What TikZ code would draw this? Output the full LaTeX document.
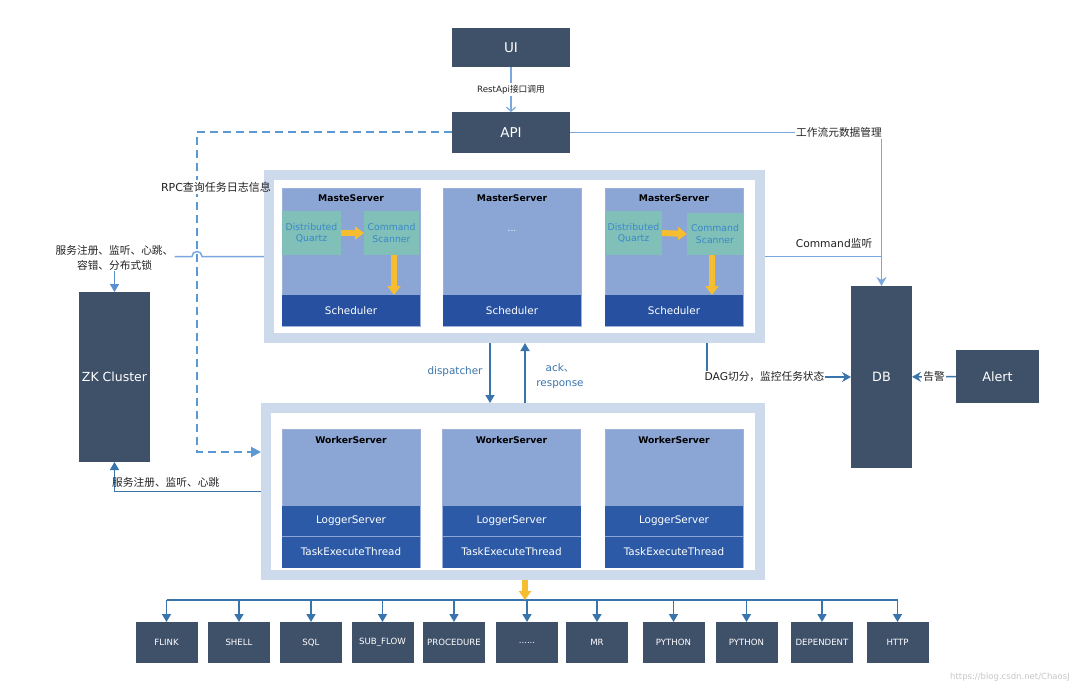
\documentclass[tikz,border=0pt]{standalone}
\usepackage{fontspec}
\setmainfont{DejaVu Sans}
\newfontfamily\cjk{Noto Sans CJK SC}
\usetikzlibrary{arrows.meta}
\definecolor{slate}{HTML}{3F5069}
\definecolor{frameblue}{HTML}{CDDAEC}
\definecolor{bodyblue}{HTML}{8BA5D5}
\definecolor{bandblue}{HTML}{2751A0}
\definecolor{wbandblue}{HTML}{2C5AA6}
\definecolor{qteal}{HTML}{80C0B9}
\definecolor{qtext}{HTML}{3B87C9}
\definecolor{qyellow}{HTML}{F5BD2F}
\definecolor{lineblue}{HTML}{7AA7DE}
\definecolor{midblue}{HTML}{5A8FD0}
\definecolor{steel}{HTML}{3A74AC}
\definecolor{dashblue}{HTML}{5A99D4}
\definecolor{txt}{HTML}{222222}
\newcommand\myfs[2]{\fontsize{#1}{#2}\selectfont}
\newcommand\sixdots{......}
\begin{document}
\begin{tikzpicture}[x=1pt,y=-1pt,
  darkbox/.style={fill=slate, text=white, inner sep=0pt, outer sep=0pt, font=\myfs{13.5}{15}},
  frame/.style={draw=frameblue, line width=10pt, fill=white, inner sep=0pt, outer sep=5pt},
  srv/.style={fill=bodyblue, draw=bodyblue!85!white, line width=0.6pt, minimum width=138pt, minimum height=138pt, inner sep=0pt, outer sep=0pt},
  band/.style={fill=bandblue, text=white, minimum width=138pt, minimum height=31pt, inner sep=0pt, outer sep=0pt, font=\myfs{10.4}{12}},
  wband/.style={band, fill=wbandblue},
  sub/.style={fill=qteal, text=qtext, minimum height=44pt, inner sep=0pt, outer sep=0pt, align=center, font=\myfs{9.3}{11.3}},
  title/.style={text=black, inner sep=0pt, font=\bfseries\myfs{9.2}{11}},
  yarrow/.style={qyellow, line width=6pt, -{Triangle[length=9pt,width=13pt]}},
  lbl/.style={fill=white, text=txt, inner sep=1pt, align=center, font=\myfs{10.7}{15}},
  plain/.style={text=txt, inner sep=0pt, align=center, font=\myfs{10.7}{15}},
  steeltext/.style={text=steel, inner sep=0pt, align=center, font=\myfs{10.4}{15}},
  task/.style={darkbox, minimum width=62pt, minimum height=41pt, font=\myfs{8.6}{10}},
  lblue/.style={lineblue, line width=1.5pt},
  steelline/.style={steel, line width=1.5pt},
  chev/.style={-{Stealth[length=9pt,width=10pt,inset=3pt]}},
  tri/.style={-{Triangle[length=8pt,width=9pt]}},
  dashline/.style={dashblue, line width=2pt, dash pattern=on 8pt off 5pt, -{Triangle[length=10pt,width=10pt]}}
]
\useasboundingbox (0,0) rectangle (1080,690);
\fill[white] (0,0) rectangle (1080,690);

% top
\node[darkbox, minimum width=118pt, minimum height=39pt] (ui) at (511,47.5) {UI};
\node[darkbox, minimum width=118pt, minimum height=41pt] (api) at (511,132.5) {API};

% frames
\node[frame, minimum width=491pt, minimum height=163pt] (mframe) at (514.5,256.5) {};
\node[frame, minimum width=494pt, minimum height=167pt] (wframe) at (513,491.5) {};

% master servers
\node[srv] (m1) at (351,257) {};
\node[band, anchor=south] (s1) at (m1.south) {Scheduler};
\node[title] (t1) at (351,198) {MasteServer};
\node[sub, minimum width=59pt] (dq1) at (311.5,233) {Distributed\\Quartz};
\node[sub, minimum width=55pt] (cs1) at (391.5,233) {Command\\Scanner};
\draw[yarrow] (dq1.east) -- (cs1.west);
\draw[yarrow] (cs1.south -| 394,0) -- (s1.north -| 394,0);

\node[srv] (m2) at (512,257) {};
\node[band, anchor=south] (s2) at (m2.south) {Scheduler};
\node[title] (t2) at (512,198) {MasterServer};
\node[text=white, inner sep=0pt, font=\myfs{9}{11}] (dots) at (512,231) {...};

\node[srv] (m3) at (674,257) {};
\node[band, anchor=south] (s3) at (m3.south) {Scheduler};
\node[title] (t3) at (674,198) {MasterServer};
\node[sub, minimum width=57pt] (dq3) at (633.5,233) {Distributed\\Quartz};
\node[sub, minimum width=56pt, minimum height=42pt] (cs3) at (715,234) {Command\\Scanner};
\draw[yarrow] (dq3.east) -- (cs3.west);
\draw[yarrow] (cs3.south -| 712,0) -- (s3.north -| 712,0);

% worker servers
\foreach \w/\x in {w1/351, w2/511.5, w3/674} {
  \node[srv] (\w) at (\x,498.5) {};
  \node[wband, anchor=south] (\w tk) at (\w.south) {TaskExecuteThread};
  \node[wband, anchor=south] (\w lg) at (\w tk.north) {LoggerServer};
  \draw[bodyblue, line width=0.8pt] (\w lg.south west) -- (\w lg.south east);
  \node[title] (\w t) at (\x,440) {WorkerServer};
}

% ZK
\node[darkbox, minimum width=71pt, minimum height=170pt, font=\myfs{12.5}{14}] (zk) at (114.5,377) {ZK Cluster};
\node[lbl] (zkl) at (114.5,257.5) {{\cjk 服务注册、监听、心跳、}\\{\cjk 容错、分布式锁}};
\draw[midblue, line width=1.5pt, tri] (zkl.south) -- (zk.north);

% dashed RPC connector
\coordinate (dc) at (197,452);
\draw[dashline] (api.west) -| (dc) -- (dc -| wframe.west);
\fill[white] (160,180) rectangle (264,194);
\node[plain, font=\myfs{11}{13}] (rpc) at (216,187) {RPC{\cjk 查询任务日志信息}};

% master -> ZK with hop
\draw[lblue] (mframe.west) -- (202,256.5) arc[start angle=0, end angle=-180, radius=5] -- (zkl.east |- mframe.west);

% worker -> ZK
\draw[steelline, tri] (wframe.west) -| (zk.south);
\node[plain, anchor=west] (zkl2) at (112,482) {{\cjk 服务注册、监听、心跳}};

% UI -> API
\draw[lineblue, line width=1.2pt, -{Straight Barb[length=4pt,width=9pt]}] (ui) -- (api)
  node[lbl, midway, inner sep=1.5pt, font=\myfs{8.7}{10}] (rest) {RestApi{\cjk 接口调用}};

% DB, Alert
\node[darkbox, minimum width=61pt, minimum height=182pt, font=\myfs{12.8}{14}] (db) at (881.5,377) {DB};
\node[darkbox, minimum width=83pt, minimum height=53pt, font=\myfs{12.8}{14}] (alert) at (997.5,376.5) {Alert};

\node[lbl] (wf) at (839,132.5) {{\cjk 工作流元数据管理}};
\draw[lblue] (api) -- (wf);
\draw[lblue, chev] (wf.south -| db.north) -- (db.north);
\draw[lblue] (mframe.east) -- (mframe.east -| db.north);
\node[plain] (cmdl) at (834,243) {Command{\cjk 监听}};

\draw[steelline, chev] (mframe.south -| 707,0) |- (db.west);
\node[lbl] (dag) at (764.5,377) {DAG{\cjk 切分，监控任务状态}};

\draw[steelline, chev] (alert) -- (db) node[lbl, midway] (al) {{\cjk 告警}};

% dispatcher / ack
\draw[steelline, tri] (mframe.south -| 490,0) -- (wframe.north -| 490,0);
\node[steeltext] (dl) at (455,372) {dispatcher};
\draw[steelline, tri] (wframe.north -| 525,0) -- (mframe.south -| 525,0);
\node[steeltext] (ackl) at (560,376.5) {ack{\cjk 、}\\response};

% task types
\coordinate (bus) at (0,600);
\foreach \n/\x/\t in {b1/166.5/FLINK, b2/239/SHELL, b3/311/SQL, b4/382.5/SUB\_FLOW, b5/454/PROCEDURE, b6/527/\sixdots, b7/597/MR, b8/673.5/PYTHON, b9/746.5/PYTHON, b10/822/DEPENDENT, b11/897.5/HTTP} {
  \node[task] (\n) at (\x,642.5) {\t};
  \draw[steelline, -{Triangle[length=8pt,width=9pt]}] (bus -| \n.north) -- (\n.north);
}
\draw[steelline] (bus -| b1.north) -- (bus -| b11.north);
\draw[yarrow, -{Triangle[length=9pt,width=12pt]}] (wframe.south -| 525,0) -- (bus -| 525,0);

\node[text=black!22, inner sep=0pt, font=\myfs{8.5}{10}] (wm) at (1010,677) {https://blog.csdn.net/ChaosJ};
\end{tikzpicture}
\end{document}
